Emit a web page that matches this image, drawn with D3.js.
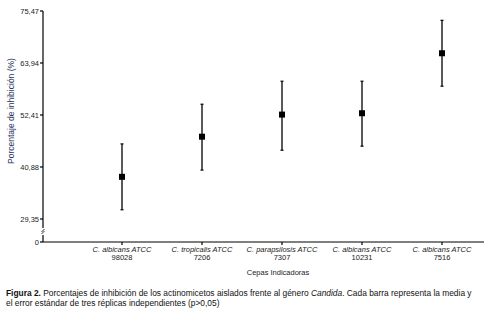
<!DOCTYPE html>
<html lang="es">
<head>
  <meta charset="utf-8">
  <title>Figura 2</title>
  <script src="https://cdn.jsdelivr.net/npm/d3@7"></script>
  <style>
    body { margin: 0; background: #fff; }
    svg { display: block; font-family: "Liberation Sans", Arial, sans-serif; }
  </style>
</head>
<body>
  <svg id="chart" width="489" height="316"></svg>
  <script>
    // cepas indicadoras (linea 1 en cursiva, linea 2 el numero)
    var especies = ['C. albicans ATCC', 'C. tropicalis ATCC', 'C. parapsilosis ATCC', 'C. albicans ATCC', 'C. albicans ATCC'];
    var codigos = ['98028', '7206', '7307', '10231', '7516'];
    // media y limites del error estandar (% inhibicion)
    var medias = [38.7, 47.6, 52.5, 52.8, 66.1];
    var errSup = [46.0, 54.8, 59.9, 59.9, 73.4];
    var errInf = [31.4, 40.2, 44.6, 45.5, 58.8];
    var yTicks = [29.35, 40.88, 52.41, 63.94, 75.47];

    var svg = d3.select('#chart');
    var x0 = 43, x1 = 484, yBase = 242;

    var x = d3.scalePoint()
      .domain(d3.range(codigos.length))
      .range([122, 442]);

    var y = d3.scaleLinear()
      .domain([29.35, 75.47])
      .range([219, 11]);

    var fmt = d => d.toFixed(2).replace('.', ',');

    // eje y (con corte entre 29,35 y 0)
    var gy = svg.append('g').attr('stroke', '#000').attr('stroke-width', 1.2);
    gy.append('line').attr('x1', x0).attr('x2', x0).attr('y1', y(75.47)).attr('y2', 228);
    gy.append('line').attr('x1', x0).attr('x2', x0).attr('y1', 235).attr('y2', yBase);
    gy.append('line').attr('x1', x0 - 1.5).attr('x2', x0 + 1.5).attr('y1', 232).attr('y2', 229).attr('stroke-width', 0.8);
    gy.append('line').attr('x1', x0 - 1.5).attr('x2', x0 + 1.5).attr('y1', 234).attr('y2', 231).attr('stroke-width', 0.8);

    yTicks.forEach(function (t) {
      gy.append('line').attr('x1', x0 - 3).attr('x2', x0).attr('y1', y(t)).attr('y2', y(t));
    });
    gy.append('line').attr('x1', x0 - 3).attr('x2', x0).attr('y1', yBase).attr('y2', yBase);

    svg.selectAll('.ylab')
      .data(yTicks)
      .enter()
      .append('text')
      .attr('x', x0 - 4)
      .attr('y', d => y(d))
      .attr('dy', '0.35em')
      .attr('text-anchor', 'end')
      .attr('font-size', 7.5)
      .attr('fill', '#222')
      .text(fmt);
    svg.append('text')
      .attr('x', x0 - 4).attr('y', yBase).attr('dy', '0.35em')
      .attr('text-anchor', 'end').attr('font-size', 7.5).attr('fill', '#222')
      .text('0');

    svg.append('text')
      .attr('transform', 'translate(14,111) rotate(-90)')
      .attr('text-anchor', 'middle')
      .attr('font-size', 8.5)
      .attr('fill', '#2a3560')
      .text('Porcentaje de inhibición (%)');

    // eje x
    svg.append('line')
      .attr('x1', x0).attr('x2', x1).attr('y1', yBase).attr('y2', yBase)
      .attr('stroke', '#000').attr('stroke-width', 1.2);

    var cat = svg.selectAll('.cat')
      .data(codigos)
      .enter()
      .append('g')
      .attr('transform', (d, i) => `translate(${x(i)},${yBase})`);
    cat.append('line').attr('y1', 0).attr('y2', 3).attr('stroke', '#000').attr('stroke-width', 1.2);
    cat.append('text')
      .attr('y', 10)
      .attr('text-anchor', 'middle')
      .attr('font-size', 7.5)
      .attr('font-style', 'italic')
      .attr('fill', '#222')
      .text((d, i) => especies[i]);
    cat.append('text')
      .attr('y', 18)
      .attr('text-anchor', 'middle')
      .attr('font-size', 7.5)
      .attr('fill', '#222')
      .text(d => d);

    svg.append('text')
      .attr('x', 278).attr('y', 275)
      .attr('text-anchor', 'middle')
      .attr('font-size', 7.5)
      .attr('fill', '#222')
      .text('Cepas Indicadoras');

    // barras de error y medias
    var pts = svg.selectAll('.pt')
      .data(medias)
      .enter()
      .append('g');
    pts.append('line')
      .attr('x1', (d, i) => x(i)).attr('x2', (d, i) => x(i))
      .attr('y1', (d, i) => y(errSup[i])).attr('y2', (d, i) => y(errInf[i]))
      .attr('stroke', '#000').attr('stroke-width', 1.3);
    pts.append('line')
      .attr('x1', (d, i) => x(i) - 1.5).attr('x2', (d, i) => x(i) + 1.5)
      .attr('y1', (d, i) => y(errSup[i])).attr('y2', (d, i) => y(errSup[i]))
      .attr('stroke', '#000').attr('stroke-width', 1.2);
    pts.append('line')
      .attr('x1', (d, i) => x(i) - 1.5).attr('x2', (d, i) => x(i) + 1.5)
      .attr('y1', (d, i) => y(errInf[i])).attr('y2', (d, i) => y(errInf[i]))
      .attr('stroke', '#000').attr('stroke-width', 1.2);
    pts.append('rect')
      .attr('x', (d, i) => x(i) - 3).attr('y', d => y(d) - 3)
      .attr('width', 6).attr('height', 6)
      .attr('fill', '#000');

    // pie de figura
    var cap = svg.append('text').attr('font-size', 8.4).attr('fill', '#111');
    var l1 = cap.append('tspan').attr('x', 6).attr('y', 296);
    l1.append('tspan').attr('font-weight', 'bold').text('Figura 2.');
    l1.append('tspan').text(' Porcentajes de inhibición de los actinomicetos aislados frente al género ');
    l1.append('tspan').attr('font-style', 'italic').text('Candida');
    l1.append('tspan').text('. Cada barra representa la media y');
    cap.append('tspan').attr('x', 6).attr('y', 306)
      .text('el error estándar de tres réplicas independientes (p>0,05)');
  </script>
</body>
</html>
